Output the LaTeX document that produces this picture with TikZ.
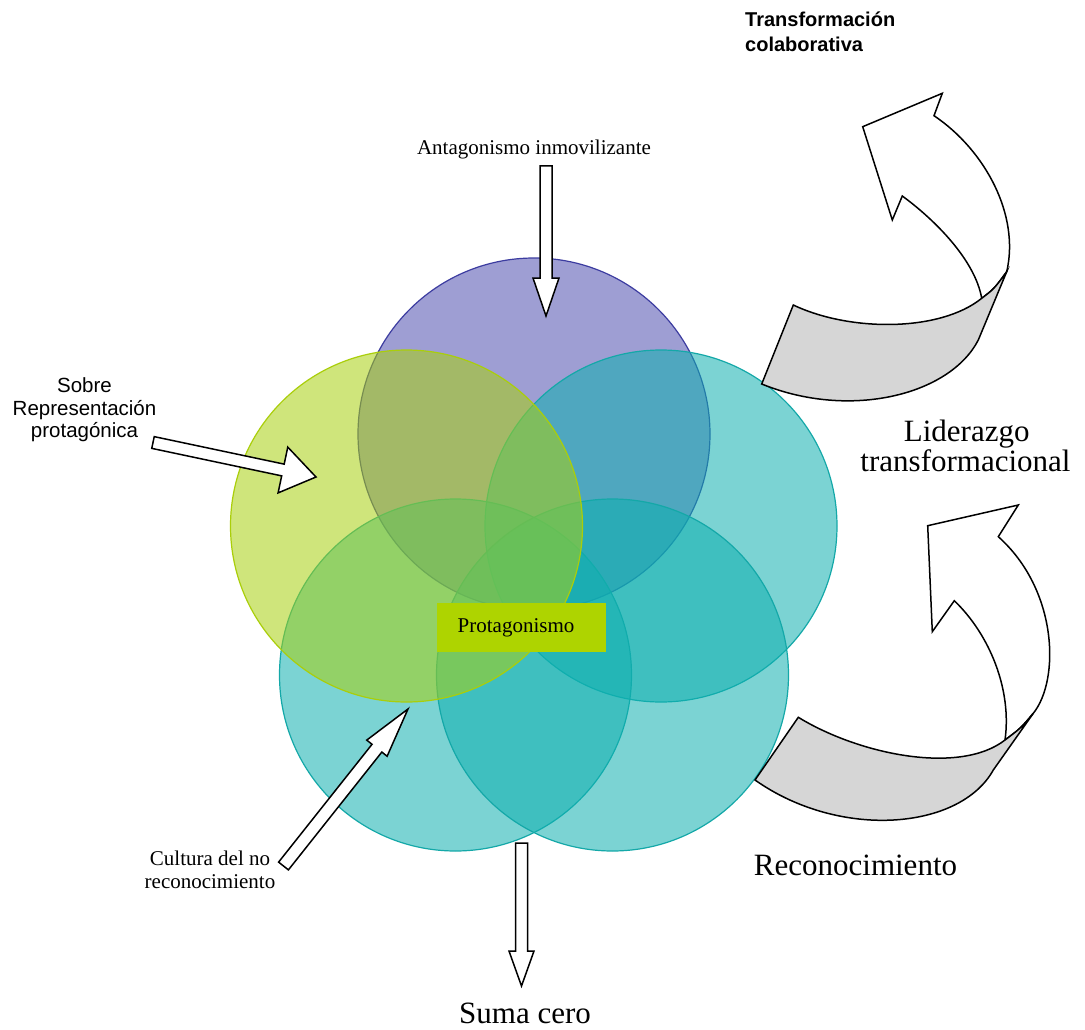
\documentclass[tikz,border=0pt]{standalone}
\usepackage{fontspec}
\setmainfont{Liberation Serif}
\newfontfamily\arialf{Liberation Sans}
\usetikzlibrary{calc}
\definecolor{purpbase}{RGB}{80,80,176}
\definecolor{purpedge}{RGB}{60,60,160}
\definecolor{ygbase}{RGB}{168,208,16}
\definecolor{ygedge}{RGB}{170,206,10}
\definecolor{tealbase}{RGB}{15,176,176}
\definecolor{tealedge}{RGB}{20,168,168}
\definecolor{protfill}{RGB}{174,212,0}
\definecolor{bandgray}{RGB}{214,214,214}
\newcommand\blkarrow[5]{%
  \coordinate (tmpC) at ($(#2)!#5!(#1)$);
  \draw[blockarr] ($(#1)!#3!90:(#2)$) -- ($(tmpC)!#3!90:(#2)$) -- ($(tmpC)!#4!90:(#2)$) -- (#2)
    -- ($(tmpC)!#4!-90:(#2)$) -- ($(tmpC)!#3!-90:(#2)$) -- ($(#1)!#3!-90:(#2)$) -- cycle;}
\begin{document}
\begin{tikzpicture}[x=1pt,y=-1pt,
  circ/.style={circle, minimum size=352pt, inner sep=0pt, fill opacity=0.55, line width=1.2pt},
  blockarr/.style={draw=black, fill=white, line width=1.5pt, line join=miter},
  curvarr/.style={draw=black, line width=1.5pt, line join=miter},
  small/.style={font=\fontsize{21}{23}\selectfont, inner sep=0pt, anchor=base},
  big/.style={font=\fontsize{31}{33}\selectfont, inner sep=0pt, anchor=base},
  sans/.style={font=\arialf\fontsize{20.5}{23}\selectfont, inner sep=0pt, anchor=base},
  sansbold/.style={font=\arialf\bfseries\fontsize{20}{25}\selectfont, inner sep=0pt, anchor=base west},
]
\useasboundingbox[fill=white] (0,0) rectangle (1085,1030);

% circles
\node[circ, draw=purpedge, fill=purpbase] (cP) at (534,434) {};
\node[circ, draw=tealedge, fill=tealbase] (cR) at (661,526) {};
\node[circ, draw=tealedge, fill=tealbase] (cBL) at (455.5,675) {};
\node[circ, draw=tealedge, fill=tealbase] (cBR) at (612.5,675) {};
\node[circ, draw=ygedge, fill=ygbase] (cY) at (406.5,526) {};

% central box
\node[fill=protfill, minimum width=168.4pt, minimum height=48.4pt, inner sep=0pt,
  font=\fontsize{21}{23}\selectfont] (prot) at (521.5,627.5) {\hspace*{-11pt}Protagonismo};

% labels
\node[sansbold] (tc1) at (745,27) {Transformación};
\node[sansbold] (tc2) at (745,52) {colaborativa};
\node[small] (ant) at (534,154.3) {Antagonismo inmovilizante};
\node[sans] (sr1) at (84.5,392.3) {Sobre};
\node[sans] (sr2) at (84.5,415) {Representación};
\node[sans] (sr3) at (84.5,437.7) {protagónica};
\node[small] (cu1) at (210,865) {Cultura del no};
\node[small] (cu2) at (210,888) {reconocimiento};
\node[big] (li1) at (966.7,441.7) {Liderazgo};
\node[big] (li2) at (965.5,471) {transformacional};
\node[big] (rec) at (855.5,875) {Reconocimiento};
\node[big] (suma) at (525,1023) {Suma cero};

% block arrows
\coordinate (aT1) at (546,166);   \coordinate (aT2) at (546,316);
\coordinate (sT1) at (521.5,843); \coordinate (sT2) at (521.5,986);
\coordinate (rT1) at (153,442.5); \coordinate (rT2) at (316,477);
\coordinate (cT1) at (283.5,866); \coordinate (cT2) at (408,709);
\blkarrow{aT1}{aT2}{6pt}{13pt}{38pt}
\blkarrow{sT1}{sT2}{6pt}{12.5pt}{35pt}
\blkarrow{rT1}{rT2}{6pt}{23.4pt}{33.8pt}
\blkarrow{cT1}{cT2}{6.25pt}{13pt}{50pt}

% curved arrow, top right
\coordinate (A1) at (761.7,384);  \coordinate (B1) at (793.3,305);
\coordinate (J1) at (981.7,298.3); \coordinate (C1) at (1006.7,271.7);
\coordinate (D1) at (978.3,340);
\coordinate (R1) at (934,115.7);  \coordinate (Bt1) at (942.3,93.3);
\coordinate (T1) at (862.7,126.7); \coordinate (Bl1) at (892.3,220);
\coordinate (L1) at (902.3,196);
\draw[curvarr, fill=white] (J1) .. controls (975,260) and (935,220) .. (L1) -- (Bl1) -- (T1) -- (Bt1) -- (R1)
  .. controls (985,150) and (1020,215) .. (C1) .. controls (994,289) .. (J1) -- cycle;
\draw[curvarr, fill=bandgray] (A1) -- (B1) .. controls (850,332) and (940,332) .. (J1)
  .. controls (994,289) .. (C1) -- (D1) .. controls (950,395) and (850,420) .. (A1) -- cycle;

% curved arrow, bottom right
\coordinate (A2) at (755,780);    \coordinate (B2) at (798.3,717.3);
\coordinate (J2) at (1005,740);   \coordinate (C2) at (1033.3,713.3);
\coordinate (D2) at (993.3,770);
\coordinate (R2) at (998.3,536.7); \coordinate (Bt2) at (1018.3,505);
\coordinate (T2) at (927.7,525.7); \coordinate (Bl2) at (932.3,631.7);
\coordinate (L2) at (954.3,600.7);
\draw[curvarr, fill=white] (J2) .. controls (1012,690) and (990,635) .. (L2) -- (Bl2) -- (T2) -- (Bt2) -- (R2)
  .. controls (1058,590) and (1060,680) .. (C2) .. controls (1021,728) .. (J2) -- cycle;
\draw[curvarr, fill=bandgray] (A2) -- (B2) .. controls (860,755) and (960,775) .. (J2)
  .. controls (1021,728) .. (C2) -- (D2) .. controls (960,830) and (840,840) .. (A2) -- cycle;
\end{tikzpicture}
\end{document}
